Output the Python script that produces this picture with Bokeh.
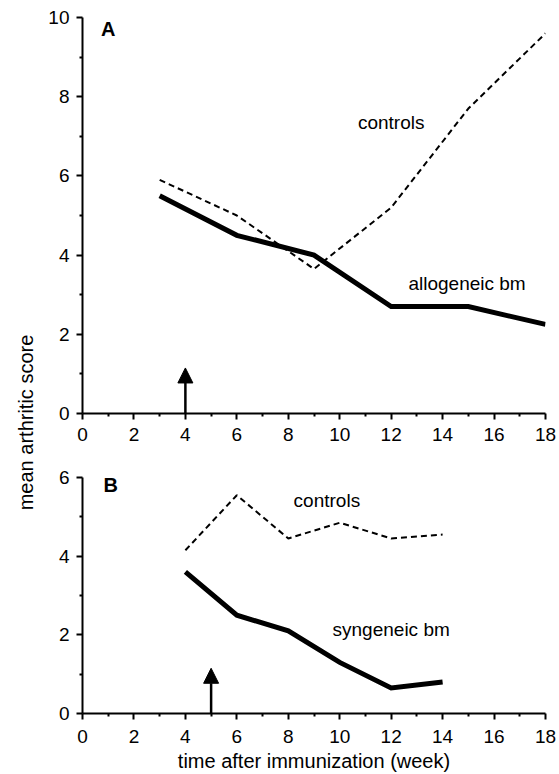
from math import pi
from bokeh.plotting import figure
from bokeh.models import Range1d, FixedTicker, Arrow, NormalHead, Label, ColumnDataSource
from bokeh.layouts import row, column
from bokeh.core.properties import value
from bokeh.embed import file_html
from bokeh.resources import INLINE

# ---------------- data ----------------
weeks_a = [3, 6, 9, 12, 15, 18]
allogeneic_bm = [5.5, 4.5, 4.0, 2.7, 2.7, 2.25]
controls_a = [5.9, 5.0, 3.65, 5.2, 7.7, 9.6]

weeks_b = [4, 6, 8, 10, 12, 14]
syngeneic_bm = [3.6, 2.5, 2.1, 1.3, 0.65, 0.8]
controls_b = [4.15, 5.55, 4.45, 4.85, 4.45, 4.55]

arrow_week_a = 4
arrow_week_b = 5
arrow_height = 1.15

x_ticks = [0, 2, 4, 6, 8, 10, 12, 14, 16, 18]
x_minor = [1, 3, 5, 7, 9, 11, 13, 15, 17]
y_ticks_a = [0, 2, 4, 6, 8, 10]
y_minor_a = [1, 3, 5, 7, 9]
y_ticks_b = [0, 2, 4, 6]
y_minor_b = [1, 3, 5]

FONT = "Liberation Sans"


def style(p, yt, ym, xstand):
    p.outline_line_color = None
    p.grid.visible = False
    p.xaxis.ticker = FixedTicker(ticks=x_ticks, minor_ticks=x_minor)
    p.yaxis.ticker = FixedTicker(ticks=yt, minor_ticks=ym)
    for ax in (p.xaxis[0], p.yaxis[0]):
        ax.axis_line_width = 2
        ax.axis_line_color = "black"
        ax.major_tick_line_width = 2
        ax.major_tick_line_color = "black"
        ax.minor_tick_line_width = 2
        ax.minor_tick_line_color = "black"
        ax.major_tick_out = 6
        ax.major_tick_in = 0
        ax.minor_tick_out = 3
        ax.minor_tick_in = 0
        ax.major_label_text_font = FONT
        ax.major_label_text_font_size = "19px"
        ax.major_label_text_color = "black"
        ax.axis_label_text_font = FONT
        ax.axis_label_text_font_size = "20px"
        ax.axis_label_text_font_style = "normal"
        ax.axis_label_text_color = "black"
    p.xaxis[0].major_label_standoff = xstand
    p.yaxis[0].major_label_standoff = 7


# ---------------- panel A ----------------
pA = figure(width=515, height=455, x_range=Range1d(0, 18), y_range=Range1d(0, 10),
            output_backend="svg", toolbar_location=None,
            min_border_left=38, min_border_right=14, min_border_top=17, min_border_bottom=42)
style(pA, y_ticks_a, y_minor_a, 8)
srcA = ColumnDataSource(dict(x=weeks_a, allo=allogeneic_bm, ctrl=controls_a))
pA.line("x", "ctrl", source=srcA, line_color="black", line_width=2, line_dash="6 4")
pA.line("x", "allo", source=srcA, line_color="black", line_width=5, line_join="miter")
pA.add_layout(Arrow(end=NormalHead(size=15, fill_color="black", line_color="black"),
                    x_start=arrow_week_a, y_start=0, x_end=arrow_week_a, y_end=arrow_height,
                    line_width=2.5, line_color="black"))
pA.text(x=[1.0], y=[9.72], text=["A"], text_font=value(FONT), text_font_size="20px",
        text_font_style="bold", text_align="center", text_baseline="middle", text_color="black")
pA.text(x=[12.0, 14.95], y=[7.35, 3.28], text=["controls", "allogeneic bm"],
        text_font=value(FONT), text_font_size="19px", text_align="center",
        text_baseline="middle", text_color="black")

# ---------------- panel B ----------------
pB = figure(width=515, height=319, x_range=Range1d(0, 18), y_range=Range1d(0, 6),
            output_backend="svg", toolbar_location=None,
            min_border_left=38, min_border_right=14, min_border_top=22, min_border_bottom=60)
style(pB, y_ticks_b, y_minor_b, 10)
pB.xaxis.axis_label = "time after immunization (week)"
pB.xaxis.axis_label_standoff = 4
srcB = ColumnDataSource(dict(x=weeks_b, syn=syngeneic_bm, ctrl=controls_b))
pB.line("x", "ctrl", source=srcB, line_color="black", line_width=2, line_dash="6 4")
pB.line("x", "syn", source=srcB, line_color="black", line_width=5, line_join="miter")
pB.add_layout(Arrow(end=NormalHead(size=15, fill_color="black", line_color="black"),
                    x_start=arrow_week_b, y_start=0, x_end=arrow_week_b, y_end=arrow_height,
                    line_width=2.5, line_color="black"))
pB.text(x=[1.1], y=[5.8], text=["B"], text_font=value(FONT), text_font_size="20px",
        text_font_style="bold", text_align="center", text_baseline="middle", text_color="black")
pB.text(x=[9.5, 12.0], y=[5.42, 2.13], text=["controls", "syngeneic bm"],
        text_font=value(FONT), text_font_size="19px", text_align="center",
        text_baseline="middle", text_color="black")

# ---------------- shared y label ----------------
pL = figure(width=44, height=774, x_range=Range1d(0, 1), y_range=Range1d(0, 1),
            x_axis_type=None, y_axis_type=None, output_backend="svg", toolbar_location=None,
            min_border=0)
pL.outline_line_color = None
pL.add_layout(Label(x=0.59, y=0.4548, text="mean arthritic score", angle=pi / 2,
                    text_align="center", text_baseline="middle", text_font=FONT,
                    text_font_size="20px", text_color="black"))

layout = row(pL, column(pA, pB))
open("out.html", "w").write(file_html(layout, INLINE))
